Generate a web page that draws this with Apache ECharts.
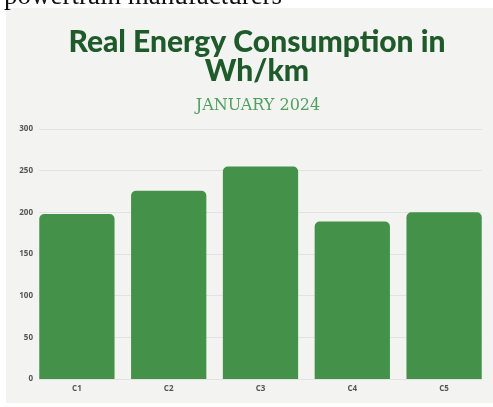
<!DOCTYPE html>
<html>
<head>
<meta charset="utf-8">
<script src="https://cdn.jsdelivr.net/npm/echarts@6/dist/echarts.min.js"></script>
<style>
  html, body { margin: 0; padding: 0; background: #fff; }
  #main { width: 493px; height: 407px; }
</style>
</head>
<body>
<div id="main"></div>
<script>
// data
const categories = ["C1", "C2", "C3", "C4", "C5"];
const consumption = [198, 226, 255, 189, 200];
const yTicks = [0, 50, 100, 150, 200, 250, 300];

const chart = echarts.init(document.getElementById("main"));

const option = {
  animation: false,
  backgroundColor: "#ffffff",
  graphic: [
    {
      type: "rect",
      shape: { x: 6, y: 8, width: 487, height: 395 },
      style: { fill: "#f3f3f2" },
      z: -10,
    },
    {
      type: "text",
      left: 4,
      top: -17,
      style: {
        text: "powertrain manufacturers",
        font: "27px 'Liberation Serif', serif",
        fill: "#111",
      },
    },
  ],
  title: [
    {
      text: "Real Energy Consumption in\nWh/km",
      left: 252,
      top: 23,
      textAlign: "center",
      textStyle: {
        fontFamily: "Lato",
        fontWeight: 900,
        fontSize: 30,
        lineHeight: 29,
        color: "#1f5a2a",
      },
    },
    {
      text: "JANUARY 2024",
      left: 253,
      top: 93,
      textAlign: "center",
      textStyle: {
        fontFamily: "DejaVu Serif",
        fontWeight: "normal",
        fontSize: 16,
        color: "#51a05d",
      },
    },
  ],
  grid: [
    { left: 39, right: 11, top: 129, bottom: 28 },
    { left: 31, right: 3, top: 129, bottom: 28 },
  ],
  xAxis: [
    {
      type: "category",
      gridIndex: 0,
      data: categories,
      show: false,
    },
    {
      type: "category",
      gridIndex: 1,
      data: categories,
      axisLine: { show: false },
      axisTick: { show: false },
      axisLabel: {
        color: "#555",
        fontFamily: "Open Sans",
        fontWeight: "bold",
        fontSize: 8,
        margin: 6,
      },
    },
  ],
  yAxis: [
    {
      type: "value",
      gridIndex: 0,
      min: yTicks[0],
      max: yTicks[yTicks.length - 1],
      interval: 50,
      axisLine: { show: false },
      axisTick: { show: false },
      splitLine: { lineStyle: { color: "#e2e2e2", width: 1 } },
      axisLabel: {
        color: "#555",
        fontFamily: "Open Sans",
        fontWeight: "bold",
        fontSize: 8,
        margin: 6,
      },
    },
    {
      type: "value",
      gridIndex: 1,
      min: yTicks[0],
      max: yTicks[yTicks.length - 1],
      interval: 50,
      show: false,
      splitLine: { show: false },
    },
  ],
  series: [
    {
      type: "bar",
      xAxisIndex: 1,
      yAxisIndex: 1,
      data: consumption,
      barCategoryGap: "18%",
      itemStyle: {
        color: "#44924a",
        borderRadius: [5, 5, 0, 0],
      },
    },
  ],
};

chart.setOption(option);
</script>
</body>
</html>
